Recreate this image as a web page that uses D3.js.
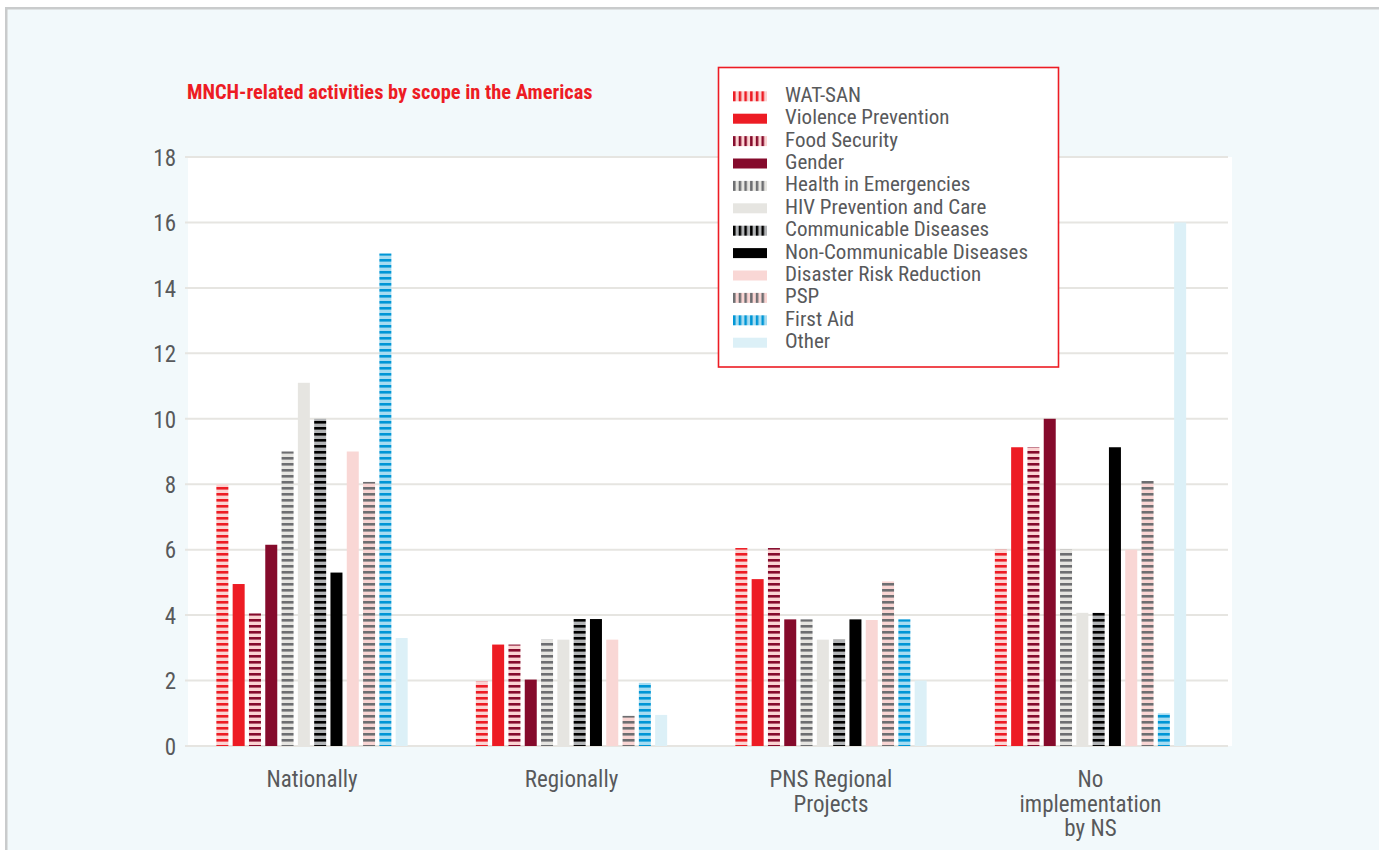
<!DOCTYPE html>
<html>
<head>
<meta charset="utf-8">
<script src="https://cdn.jsdelivr.net/npm/d3@7"></script>
<style>
  html, body { margin: 0; padding: 0; background: #ffffff; }
  svg { display: block; }
</style>
</head>
<body>
<svg id="chart" width="1379" height="850"></svg>
<script>
// ---------- DATA ----------
const title = "MNCH-related activities by scope in the Americas";
const categories = ["Nationally", "Regionally", "PNS Regional|Projects", "No|implementation|by NS"];
const seriesNames = ["WAT-SAN", "Violence Prevention", "Food Security", "Gender",
  "Health in Emergencies", "HIV Prevention and Care", "Communicable Diseases",
  "Non-Communicable Diseases", "Disaster Risk Reduction", "PSP", "First Aid", "Other"];
const nationally       = [8, 4.95, 4.05, 6.15, 9, 11.1, 10, 5.3, 9, 8.07, 15.05, 3.3];
const regionally       = [1.97, 3.1, 3.1, 2.03, 3.25, 3.25, 3.88, 3.88, 3.25, 0.92, 1.93, 0.95];
const pnsRegional      = [6.05, 5.1, 6.05, 3.87, 3.87, 3.25, 3.25, 3.87, 3.85, 5.03, 3.87, 2];
const noImplementation = [6, 9.13, 9.13, 10, 6, 4.07, 4.07, 9.13, 6, 8.1, 1, 16];
const yTicks = [0, 2, 4, 6, 8, 10, 12, 14, 16, 18];

// ---------- STYLE ----------
const seriesStyle = [
  {stripe: true,  fg: "#ed1c24", bg: "#fbd3d2"},
  {stripe: false, fg: "#ed1c24"},
  {stripe: true,  fg: "#850b2c", bg: "#fbd3d2"},
  {stripe: false, fg: "#850b2c"},
  {stripe: true,  fg: "#6d6e71", bg: "#e6e5e1"},
  {stripe: false, fg: "#e6e5e1"},
  {stripe: true,  fg: "#000000", bg: "#b2b4b6"},
  {stripe: false, fg: "#000000"},
  {stripe: false, fg: "#f9d7d5"},
  {stripe: true,  fg: "#6d6e71", bg: "#f9d5d3"},
  {stripe: true,  fg: "#0096d6", bg: "#a6dcf1"},
  {stripe: false, fg: "#dcf0f7"}
];
const FONT = "'Liberation Sans Narrow', 'Roboto Condensed', 'DejaVu Sans Condensed', 'Arial Narrow', sans-serif";
const textColor = "#58595b";

const groupValues = [nationally, regionally, pnsRegional, noImplementation];
const data = [];
categories.forEach((c, gi) => {
  seriesNames.forEach((s, si) => data.push({cat: c, series: s, si, value: groupValues[gi][si]}));
});

const svg = d3.select("#chart");
const W = 1379, H = 850;

// frame + background
svg.append("rect").attr("x", 6.25).attr("y", 8.25).attr("width", W + 20).attr("height", H + 20)
  .attr("fill", "#f2f9fb").attr("stroke", "#c9cbcc").attr("stroke-width", 2.5);

// plot area
const plot = {left: 188, right: 1232, top: 157, bottom: 746};
svg.append("rect").attr("x", plot.left).attr("y", plot.top)
  .attr("width", plot.right - plot.left).attr("height", plot.bottom - plot.top).attr("fill", "#ffffff");

const y = d3.scaleLinear().domain([0, 18]).range([plot.bottom, plot.top]);
const x0 = d3.scaleBand().domain(categories).range([plot.left, 1214.5])
  .paddingInner(0.2462).paddingOuter(0.101);
const x1 = d3.scaleBand().domain(seriesNames).range([0, x0.bandwidth()])
  .paddingInner(0.264).paddingOuter(0.132);

// patterns
const defs = svg.append("defs");
seriesStyle.forEach((st, i) => {
  if (!st.stripe) return;
  const ph = defs.append("pattern").attr("id", "ph" + i).attr("patternUnits", "userSpaceOnUse")
    .attr("width", 12).attr("height", 6).attr("y", 1);
  ph.append("rect").attr("width", 12).attr("height", 6).attr("fill", st.bg);
  ph.append("rect").attr("width", 12).attr("height", 2.6).attr("fill", st.fg);
  const pv = defs.append("pattern").attr("id", "pv" + i).attr("patternUnits", "userSpaceOnUse")
    .attr("width", 5.7).attr("height", 12).attr("x", 733);
  pv.append("rect").attr("width", 5.7).attr("height", 12).attr("fill", st.bg);
  pv.append("rect").attr("width", 2.5).attr("height", 12).attr("fill", st.fg);
});
const fillH = i => seriesStyle[i].stripe ? `url(#ph${i})` : seriesStyle[i].fg;
const fillV = i => seriesStyle[i].stripe ? `url(#pv${i})` : seriesStyle[i].fg;

// gridlines
svg.append("g").selectAll("line").data(yTicks).join("line")
  .attr("x1", 185).attr("x2", 1228)
  .attr("y1", d => y(d)).attr("y2", d => y(d))
  .attr("stroke", "#e6e5e1").attr("stroke-width", 2);

// y axis labels
const yAxis = svg.append("g").attr("transform", `translate(176,0)`)
  .call(d3.axisLeft(y).tickValues(yTicks).tickSize(0).tickPadding(0));
yAxis.select(".domain").remove();
yAxis.selectAll("text").attr("font-family", FONT).attr("font-size", 23).attr("fill", textColor)
  .attr("dy", "0.36em");

// bars
svg.append("g").selectAll("rect").data(data).join("rect")
  .attr("x", d => x0(d.cat) + x1(d.series))
  .attr("y", d => y(d.value))
  .attr("width", x1.bandwidth())
  .attr("height", d => y(0) - y(d.value))
  .attr("fill", d => fillH(d.si));

// category labels
const xAxis = svg.append("g").attr("transform", `translate(0,${plot.bottom})`)
  .call(d3.axisBottom(x0).tickSize(0).tickFormat(""));
xAxis.select(".domain").remove();
xAxis.selectAll(".tick").each(function(d) {
  const lines = d.split("|");
  lines.forEach((ln, k) => d3.select(this).append("text").attr("fill", textColor)
    .attr("font-family", FONT).attr("font-size", 23).attr("text-anchor", "middle")
    .attr("x", 0).attr("y", 41 + k * 24.5).text(ln));
});

// title
svg.append("text").attr("x", 187).attr("y", 99).attr("fill", "#ed1c24")
  .attr("font-family", FONT).attr("font-weight", "bold").attr("font-size", 20.4).text(title);

// legend
const lg = svg.append("g");
lg.append("rect").attr("x", 718.5).attr("y", 67.5).attr("width", 340).attr("height", 299.5)
  .attr("fill", "#ffffff").attr("stroke", "#ed1c24").attr("stroke-width", 1.6);
const rowY = d3.scalePoint().domain(seriesNames).range([96.3, 342.7]);
const rows = lg.selectAll("g.row").data(seriesNames).join("g").attr("class", "row")
  .attr("transform", d => `translate(0,${rowY(d)})`);
rows.append("rect").attr("x", 733).attr("y", -5).attr("width", 34).attr("height", 10)
  .attr("fill", (d, i) => fillV(i));
rows.append("text").attr("x", 785).attr("y", 5.5).attr("fill", textColor)
  .attr("font-family", FONT).attr("font-size", 21).text(d => d);
</script>
</body>
</html>
